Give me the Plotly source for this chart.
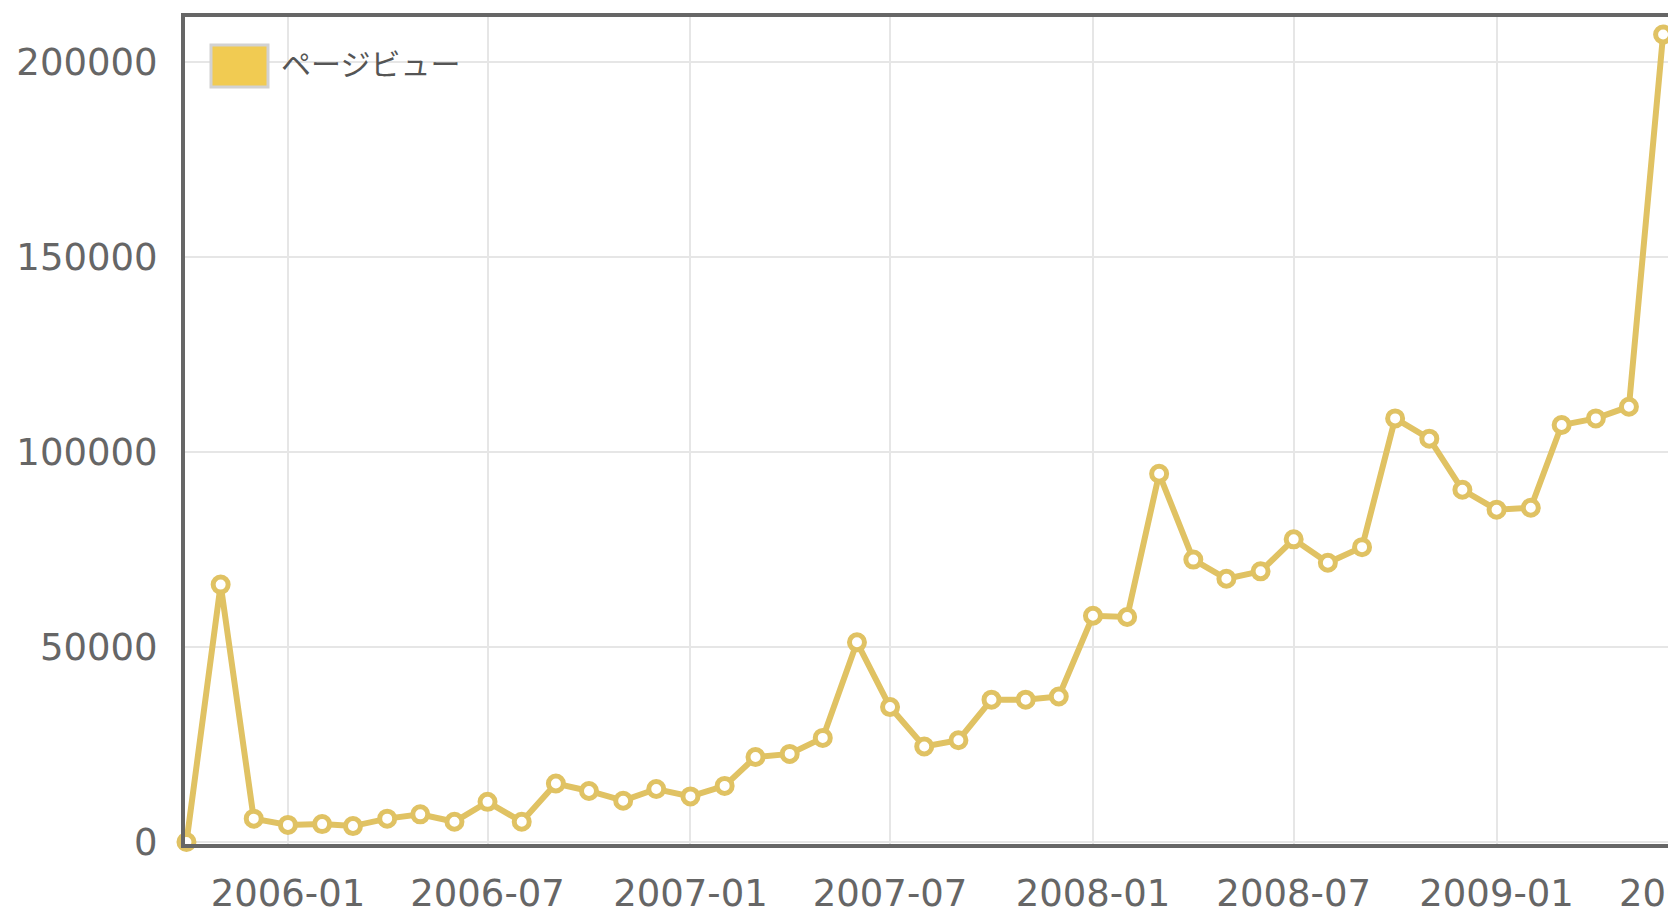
import plotly.graph_objects as go

months = [
    "2005-10", "2005-11", "2005-12",
    "2006-01", "2006-02", "2006-03", "2006-04", "2006-05", "2006-06",
    "2006-07", "2006-08", "2006-09", "2006-10", "2006-11", "2006-12",
    "2007-01", "2007-02", "2007-03", "2007-04", "2007-05", "2007-06",
    "2007-07", "2007-08", "2007-09", "2007-10", "2007-11", "2007-12",
    "2008-01", "2008-02", "2008-03", "2008-04", "2008-05", "2008-06",
    "2008-07", "2008-08", "2008-09", "2008-10", "2008-11", "2008-12",
    "2009-01", "2009-02", "2009-03", "2009-04", "2009-05", "2009-06",
]
pageviews = [
    0, 66000, 6000,
    4400, 4600, 4100, 6000, 7100, 5200,
    10300, 5200, 15000, 13100, 10600, 13600,
    11700, 14400, 21800, 22600, 26700, 51200,
    34600, 24500, 26100, 36500, 36500, 37300,
    58000, 57700, 94400, 72400, 67500, 69400,
    77600, 71600, 75600, 108600, 103400, 90300,
    85200, 85700, 106900, 108600, 111600, 207000,
]
series_name = "ページビュー"
y_ticks = [0, 50000, 100000, 150000, 200000]

x_dates = [m + "-01" for m in months]

LINE = "#E0C263"
tick_font = dict(family="DejaVu Sans ExtraLight, DejaVu Sans, sans-serif", size=37, color="#666666")

fig = go.Figure()
fig.add_trace(go.Scatter(
    x=x_dates, y=pageviews, name=series_name, mode="lines+markers",
    line=dict(color=LINE, width=6),
    marker=dict(size=15, color="white", line=dict(color=LINE, width=5)),
    showlegend=False, cliponaxis=False,
))

W, H = 1780, 914
ML, MT, MB = 185, 17, 70
fig.update_layout(
    width=W, height=H,
    margin=dict(l=ML, r=0, t=MT, b=MB, pad=0),
    paper_bgcolor="white", plot_bgcolor="white",
    xaxis=dict(
        type="date", range=["2005-09-29 16:00", "2009-09-15"],
        tick0="2006-01-01", dtick="M6", tickformat="%Y-%m",
        showgrid=True, gridcolor="#e6e6e6", gridwidth=2,
        showline=True, mirror=True, linecolor="#666", linewidth=4,
        ticks="", tickfont=tick_font, ticklabelstandoff=14,
        zeroline=False, automargin=False,
    ),
    yaxis=dict(
        range=[-500, 211500], tickvals=y_ticks, tickformat="d",
        showgrid=True, gridcolor="#e6e6e6", gridwidth=2,
        showline=True, mirror=False, linecolor="#666", linewidth=4,
        ticks="", tickfont=tick_font, ticklabelstandoff=16,
        zeroline=False, automargin=False,
    ),
    showlegend=False,
)

# legend drawn as box + label in the top-left corner of the plot
pw = W - ML
ph = H - MT - MB
def px_x(p):
    return (p - ML) / pw
def px_y(p):
    return (H - MB - p) / ph

fig.add_shape(type="rect", xref="paper", yref="paper",
              x0=px_x(211), x1=px_x(268), y0=px_y(87), y1=px_y(45),
              fillcolor="#F1CB52", line=dict(color="#d2d2d2", width=3))
fig.add_annotation(xref="paper", yref="paper", x=px_x(279), y=px_y(62),
                   xanchor="left", yanchor="middle", showarrow=False,
                   text=series_name,
                   font=dict(family="Noto Sans CJK JP", size=30, color="#555"))

fig.write_html("out.html", post_script=(
    "document.documentElement.style.overflow='hidden';"
    "document.body.style.overflow='hidden';document.body.style.margin='0';"
))
